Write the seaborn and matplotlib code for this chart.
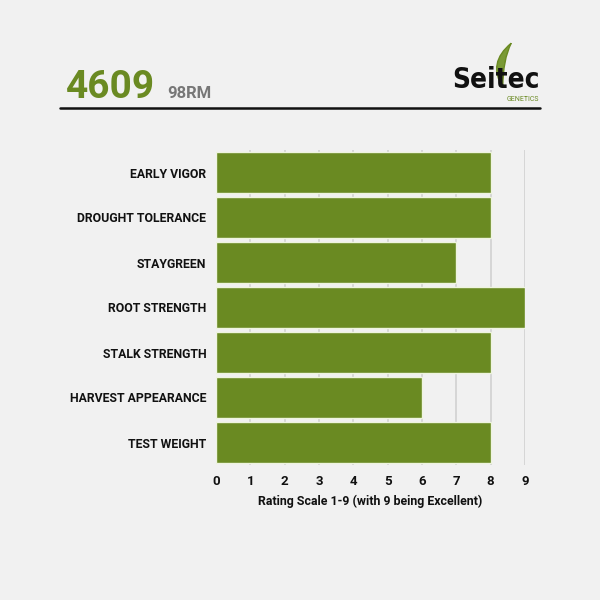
import matplotlib
matplotlib.use("Agg")
import matplotlib.pyplot as plt
import seaborn as sns
import pandas as pd
from matplotlib.lines import Line2D
from matplotlib.patches import PathPatch
from matplotlib.path import Path

traits = ["EARLY VIGOR", "DROUGHT TOLERANCE", "STAYGREEN", "ROOT STRENGTH",
          "STALK STRENGTH", "HARVEST APPEARANCE", "TEST WEIGHT"]
ratings = [8, 8, 7, 9, 8, 6, 8]
ticks = [0, 1, 2, 3, 4, 5, 6, 7, 8, 9]

hybrid = "4609"
maturity = "98RM"
xlabel = "Rating Scale 1-9 (with 9 being Excellent)"

green = "#6a8a22"
bg = "#f1f1f1"

sns.set_style("white")
plt.rcParams['font.family'] = ['Roboto', 'DejaVu Sans']

df = pd.DataFrame({'Trait': traits, 'Rating': ratings})

fig = plt.figure(figsize=(6, 6), dpi=100, facecolor=bg)
ax = fig.add_axes([0.36, 0.225, 0.515, 0.525])
ax.set_facecolor(bg)

sns.barplot(data=df, x='Rating', y='Trait', orient='h', color=green,
            saturation=1, width=0.9, edgecolor='#eef4df', linewidth=1,
            ax=ax, zorder=3)

ax.set_xlim(0, 9)
ax.set_ylim(6.5, -0.5)
ax.set_xticks(ticks)
ax.set_xticklabels([str(t) for t in ticks], fontsize=9.5, fontweight='bold', color='#111111')
ax.set_yticks(range(len(traits)))
ax.set_yticklabels(traits, fontsize=8.8, fontweight='bold', color='#111111')
ax.tick_params(axis='both', length=0, pad=7)
ax.set_ylabel("")
ax.set_xlabel(xlabel, fontsize=8.9, fontweight='bold', color='#111111', labelpad=5)
for t in ticks[1:]:
    ax.axvline(t, color='#d4d4d4', lw=1.3, zorder=1)
for s in ax.spines.values():
    s.set_visible(False)

# header
fig.text(0.11, 0.837, hybrid, fontsize=28, fontweight='bold', color=green, va='baseline')
fig.text(0.278, 0.837, maturity, fontsize=12, fontweight='bold', color='#777777', va='baseline')
fig.add_artist(Line2D([0.1, 0.9], [0.82, 0.82], color='#111111', lw=1.8))

# logo
leaf = Path([(0.852, 0.928), (0.812, 0.895), (0.838, 0.855),
             (0.838, 0.9), (0.852, 0.928)],
            [Path.MOVETO, Path.CURVE3, Path.CURVE3, Path.CURVE3, Path.CURVE3])
fig.add_artist(PathPatch(leaf, transform=fig.transFigure, facecolor='#7a9a35',
                         edgecolor=green, lw=1, zorder=1))
fig.text(0.9, 0.854, "Seitec", fontsize=20, fontweight='bold', color='#111111',
         family='DejaVu Sans', fontstretch='condensed', ha='right', va='baseline',
         zorder=3)
fig.text(0.898, 0.832, "GENETICS", fontsize=5, color=green, ha='right', va='baseline')

fig.savefig("out.png", dpi=100, facecolor=bg)
